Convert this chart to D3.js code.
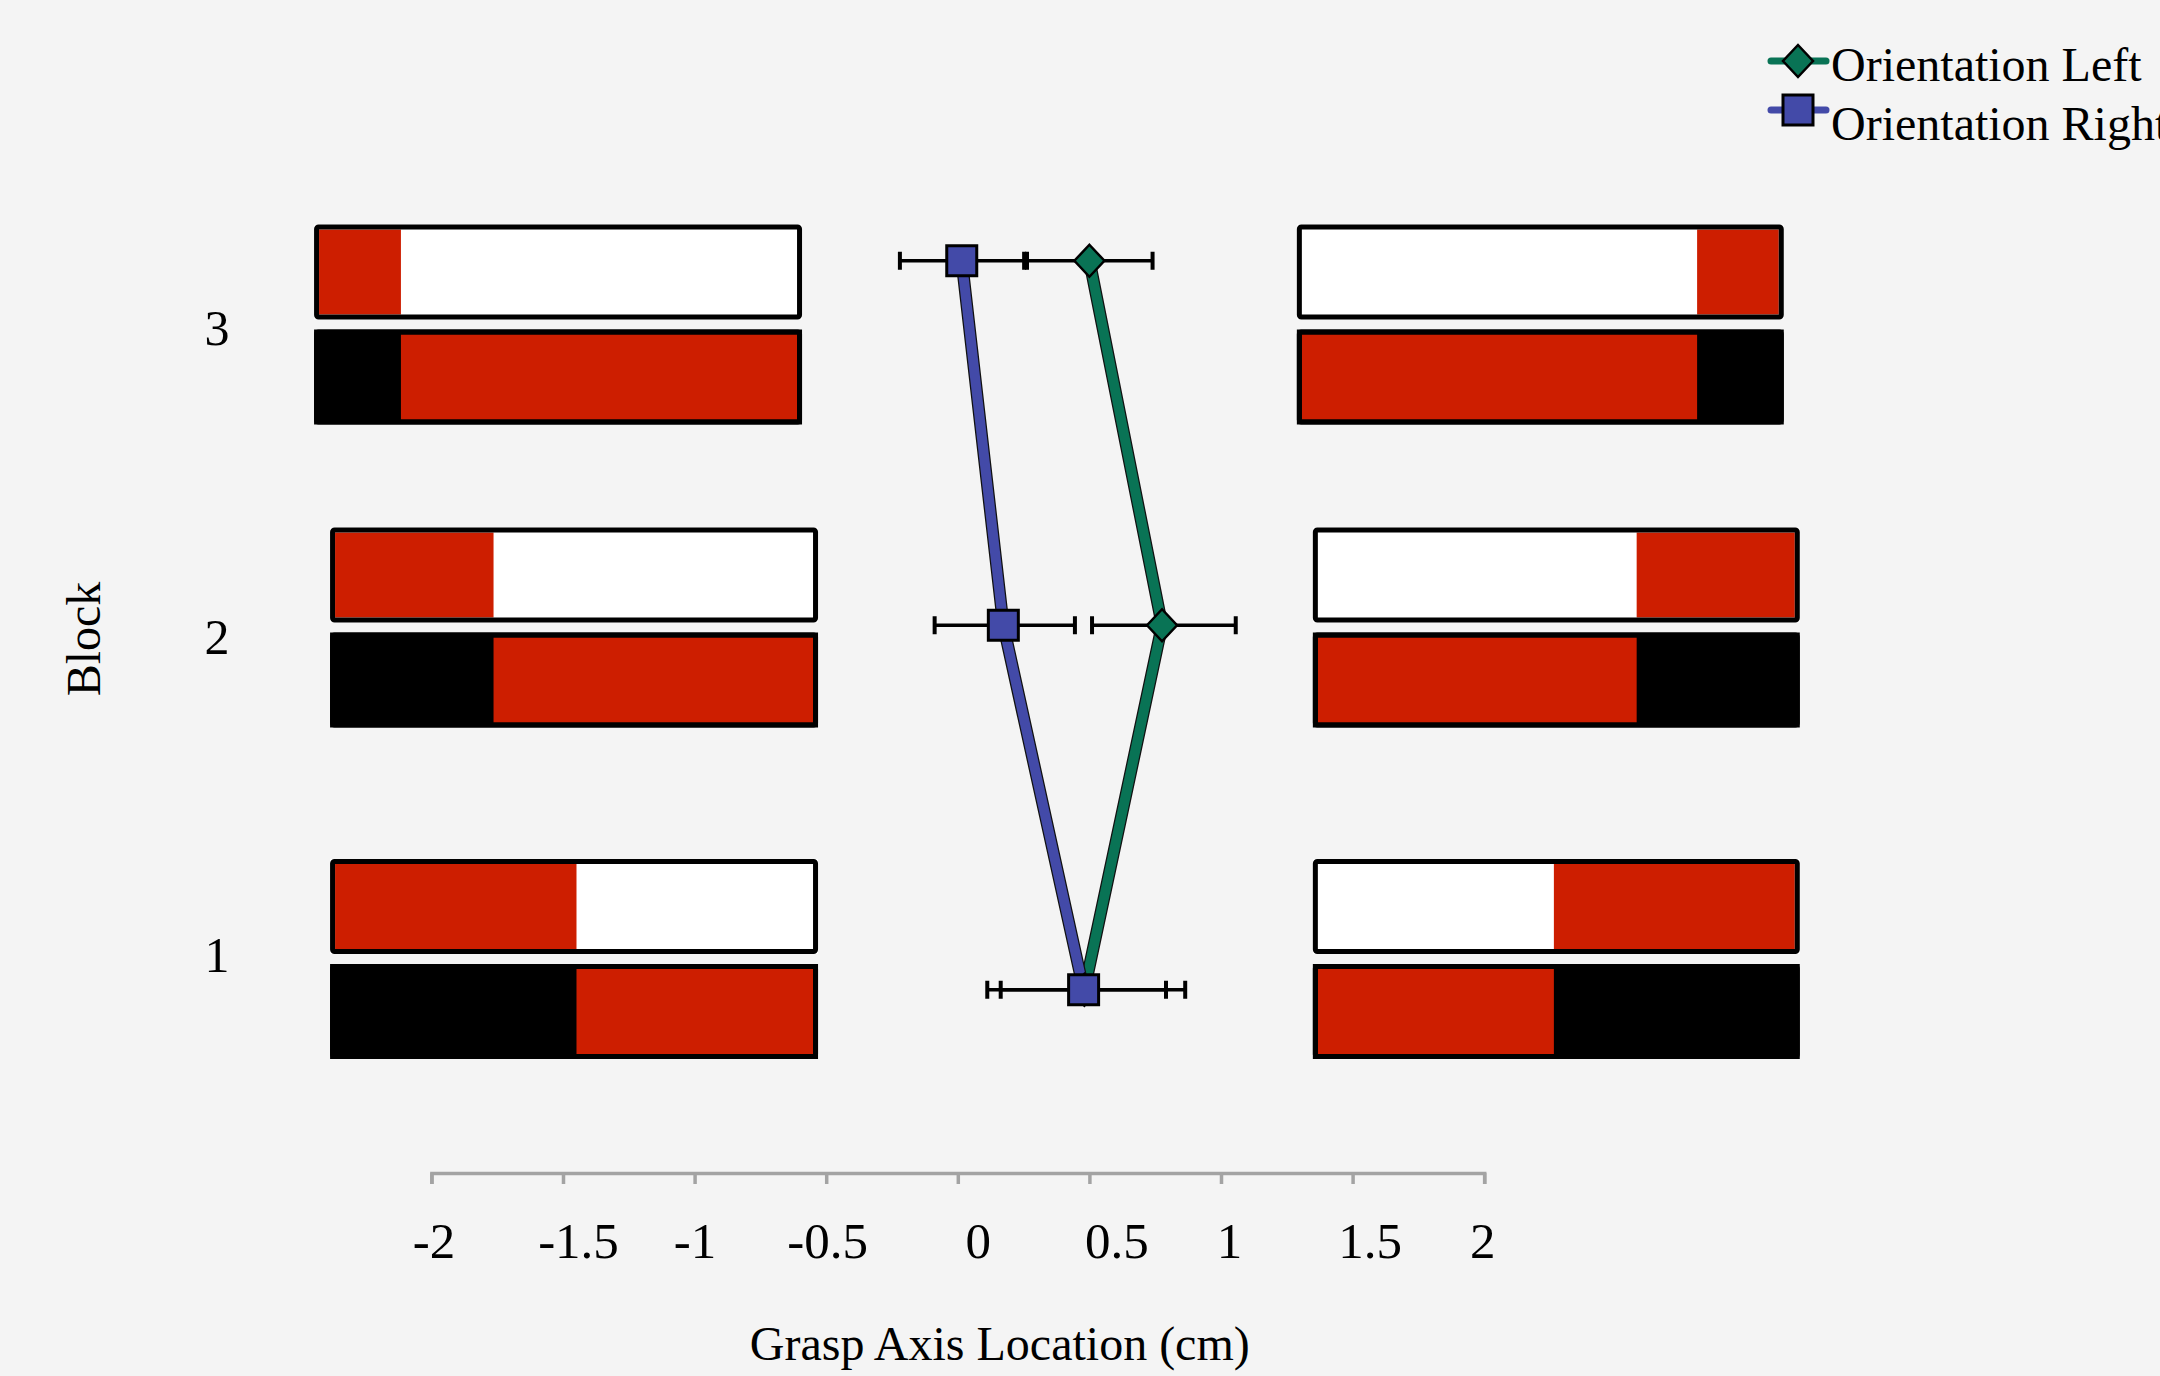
<!DOCTYPE html>
<html>
<head>
<meta charset="utf-8">
<script src="https://cdn.jsdelivr.net/npm/d3@7"></script>
<style>
  html, body { margin: 0; padding: 0; background: #f4f4f4; }
  svg { display: block; }
  text { font-family: "Liberation Serif", "Times New Roman", serif; fill: #000; }
</style>
</head>
<body>
<svg id="chart" width="2160" height="1376"></svg>
<script>
// ---- data ----
const blocks = [1, 2, 3];
const seriesNames = ["Orientation Left", "Orientation Right"];

// mean grasp axis location (cm) per block, with lower / upper error arms
const leftMean     = [0.481, 0.776, 0.500];
const leftErrLow   = [0.318, 0.266, 0.237];
const leftErrHigh  = [0.383, 0.280, 0.240];

const rightMean    = [0.478, 0.173, 0.015];
const rightErrLow  = [0.366, 0.261, 0.235];
const rightErrHigh = [0.313, 0.272, 0.237];

// share of each object bar that is red (heavy part), per block
const redShare = [0.505, 0.335, 0.178];

const xTicks = [-2, -1.5, -1, -0.5, 0, 0.5, 1, 1.5, 2];
const xTickLabels = ["-2", "-1.5", "-1", "-0.5", "0", "0.5", "1", "1.5", "2"];
const yTickLabels = ["1", "2", "3"];

// ---- layout ----
const W = 2160, H = 1376;
const COL = { green: "#097355", blue: "#434aa8", red: "#cd1e00", axis: "#a3a3a3" };

const svg = d3.select("#chart");
svg.append("rect").attr("width", W).attr("height", H).attr("fill", "#f4f4f4");

const x = d3.scaleLinear().domain([-2, 2]).range([431.4, 1484.2]);
const y = d3.scaleLinear().domain([0.5, 3.5]).range([1172, 78.5]);

// vertical centre of each block's pair of object bars, and a small sideways offset
const row = d3.scaleOrdinal().domain(blocks).range([959, 627.5, 324.5]);
const rowShift = d3.scaleOrdinal().domain(blocks).range([0, 0, -16]);
// block labels sit beside each pair of bars
const labelRow = d3.scaleOrdinal().domain(blocks).range([954, 636, 327]);

// object illustrations, extents in axis units
const panelSides = [
  { side: "left",  from: -2.385, to: -0.531 },
  { side: "right", from: 1.349,  to: 3.199 }
];
const barH = 95, barGap = 10, border = 5;

const panels = svg.append("g").attr("class", "panels");
blocks.forEach((b, i) => {
  const share = redShare[i];
  panelSides.forEach(p => {
    const x0 = x(p.from) + rowShift(b), x1 = x(p.to) + rowShift(b);
    const w = x1 - x0;
    const topY = row(b) - barGap / 2 - barH;
    const botY = row(b) + barGap / 2;
    const g = panels.append("g");

    // upper bar: white with red at the outer end
    g.append("rect").attr("x", x0).attr("y", topY).attr("width", w).attr("height", barH)
      .attr("fill", "#fff");
    const redW = share * w;
    const rx0 = p.side === "left" ? x0 + border : x1 - redW;
    const rx1 = p.side === "left" ? x0 + redW : x1 - border;
    g.append("rect").attr("x", rx0).attr("y", topY + border)
      .attr("width", rx1 - rx0).attr("height", barH - 2 * border).attr("fill", COL.red);
    g.append("rect").attr("x", x0 + border / 2).attr("y", topY + border / 2)
      .attr("width", w - border).attr("height", barH - border).attr("rx", 2)
      .attr("fill", "none").attr("stroke", "#000").attr("stroke-width", border);

    // lower bar: black with red at the inner end
    g.append("rect").attr("x", x0).attr("y", botY).attr("width", w).attr("height", barH)
      .attr("fill", "#000");
    const bx0 = p.side === "left" ? x0 + redW : x0 + border;
    const bx1 = p.side === "left" ? x1 - border : x1 - redW;
    g.append("rect").attr("x", bx0).attr("y", botY + border)
      .attr("width", bx1 - bx0).attr("height", barH - 2 * border).attr("fill", COL.red);
    g.append("rect").attr("x", x0 + border / 2).attr("y", botY + border / 2)
      .attr("width", w - border).attr("height", barH - border).attr("rx", 2)
      .attr("fill", "none").attr("stroke", "#000").attr("stroke-width", border);
  });
});

// ---- x axis ----
const axisY = 1173;
const tickNudge = [2, 15, 0, 1, 20, 27, 8, 17, -2];
const xAxis = d3.axisBottom(x)
  .tickValues(xTicks)
  .tickSize(11)
  .tickSizeOuter(11)
  .tickFormat((d, i) => xTickLabels[i]);
const gx = svg.append("g").attr("transform", `translate(0,${axisY})`).call(xAxis);
gx.select(".domain").attr("stroke", COL.axis).attr("stroke-width", 3.5);
gx.selectAll(".tick line").attr("stroke", COL.axis).attr("stroke-width", 3.5);
gx.selectAll(".tick text")
  .attr("y", 85).attr("dy", null)
  .attr("x", (d, i) => tickNudge[i])
  .attr("font-family", "Liberation Serif")
  .attr("font-size", 51)
  .attr("fill", "#000");

svg.append("text")
  .attr("x", x(0) + 42).attr("y", 1360)
  .attr("text-anchor", "middle").attr("font-size", 48)
  .text("Grasp Axis Location (cm)");

// ---- y labels ----
svg.append("g").selectAll("text").data(blocks).join("text")
  .attr("x", 217).attr("y", b => labelRow(b))
  .attr("dy", "0.35em")
  .attr("text-anchor", "middle").attr("font-size", 50)
  .text((b, i) => yTickLabels[i]);

svg.append("text")
  .attr("transform", "translate(100,639) rotate(-90)")
  .attr("text-anchor", "middle").attr("font-size", 48)
  .text("Block");

// ---- series ----
const series = [
  { name: seriesNames[0], color: COL.green, shape: "diamond",
    pts: blocks.map((b, i) => ({ b, m: leftMean[i], lo: leftErrLow[i], hi: leftErrHigh[i] })) },
  { name: seriesNames[1], color: COL.blue, shape: "square",
    pts: blocks.map((b, i) => ({ b, m: rightMean[i], lo: rightErrLow[i], hi: rightErrHigh[i] })) }
];

const line = d3.line().x(d => x(d.m)).y(d => y(d.b));

const lineLayer = svg.append("g");
series.forEach(s => {
  lineLayer.append("path").datum(s.pts).attr("d", line)
    .attr("fill", "none").attr("stroke", "#111").attr("stroke-width", 12.5)
    .attr("stroke-linejoin", "round");
  lineLayer.append("path").datum(s.pts).attr("d", line)
    .attr("fill", "none").attr("stroke", s.color).attr("stroke-width", 10)
    .attr("stroke-linejoin", "round");
});

const errLayer = svg.append("g");
series.forEach(s => {
  s.pts.forEach(d => {
    const cy = y(d.b), xl = x(d.m - d.lo), xr = x(d.m + d.hi);
    errLayer.append("line").attr("x1", xl).attr("x2", xr).attr("y1", cy).attr("y2", cy)
      .attr("stroke", "#000").attr("stroke-width", 3.5);
    [xl, xr].forEach(cx => {
      errLayer.append("line").attr("x1", cx).attr("x2", cx)
        .attr("y1", cy - 9).attr("y2", cy + 9)
        .attr("stroke", "#000").attr("stroke-width", 4);
    });
  });
});

const diamondPath = "M0,-16L15,0L0,16L-15,0Z";
const squarePath = "M-15,-15H15V15H-15Z";

function marker(g, shape, color, cx, cy) {
  g.append("path")
    .attr("d", shape === "diamond" ? diamondPath : squarePath)
    .attr("transform", `translate(${cx},${cy})`)
    .attr("fill", color).attr("stroke", "#000")
    .attr("stroke-width", shape === "diamond" ? 2.5 : 3)
    .attr("stroke-linejoin", "miter");
}

const markLayer = svg.append("g");
series.forEach(s => {
  s.pts.forEach(d => marker(markLayer, s.shape, s.color, x(d.m), y(d.b)));
});

// ---- legend ----
const legend = svg.append("g");
series.forEach((s, i) => {
  const cy = 61 + i * 49;
  legend.append("line").attr("x1", 1771).attr("x2", 1826).attr("y1", cy).attr("y2", cy)
    .attr("stroke", s.color).attr("stroke-width", 7).attr("stroke-linecap", "round");
  marker(legend, s.shape, s.color, 1798, cy);
  legend.append("text").attr("x", 1831).attr("y", 81 + i * 59)
    .attr("font-size", 48).text(s.name);
});
</script>
</body>
</html>
